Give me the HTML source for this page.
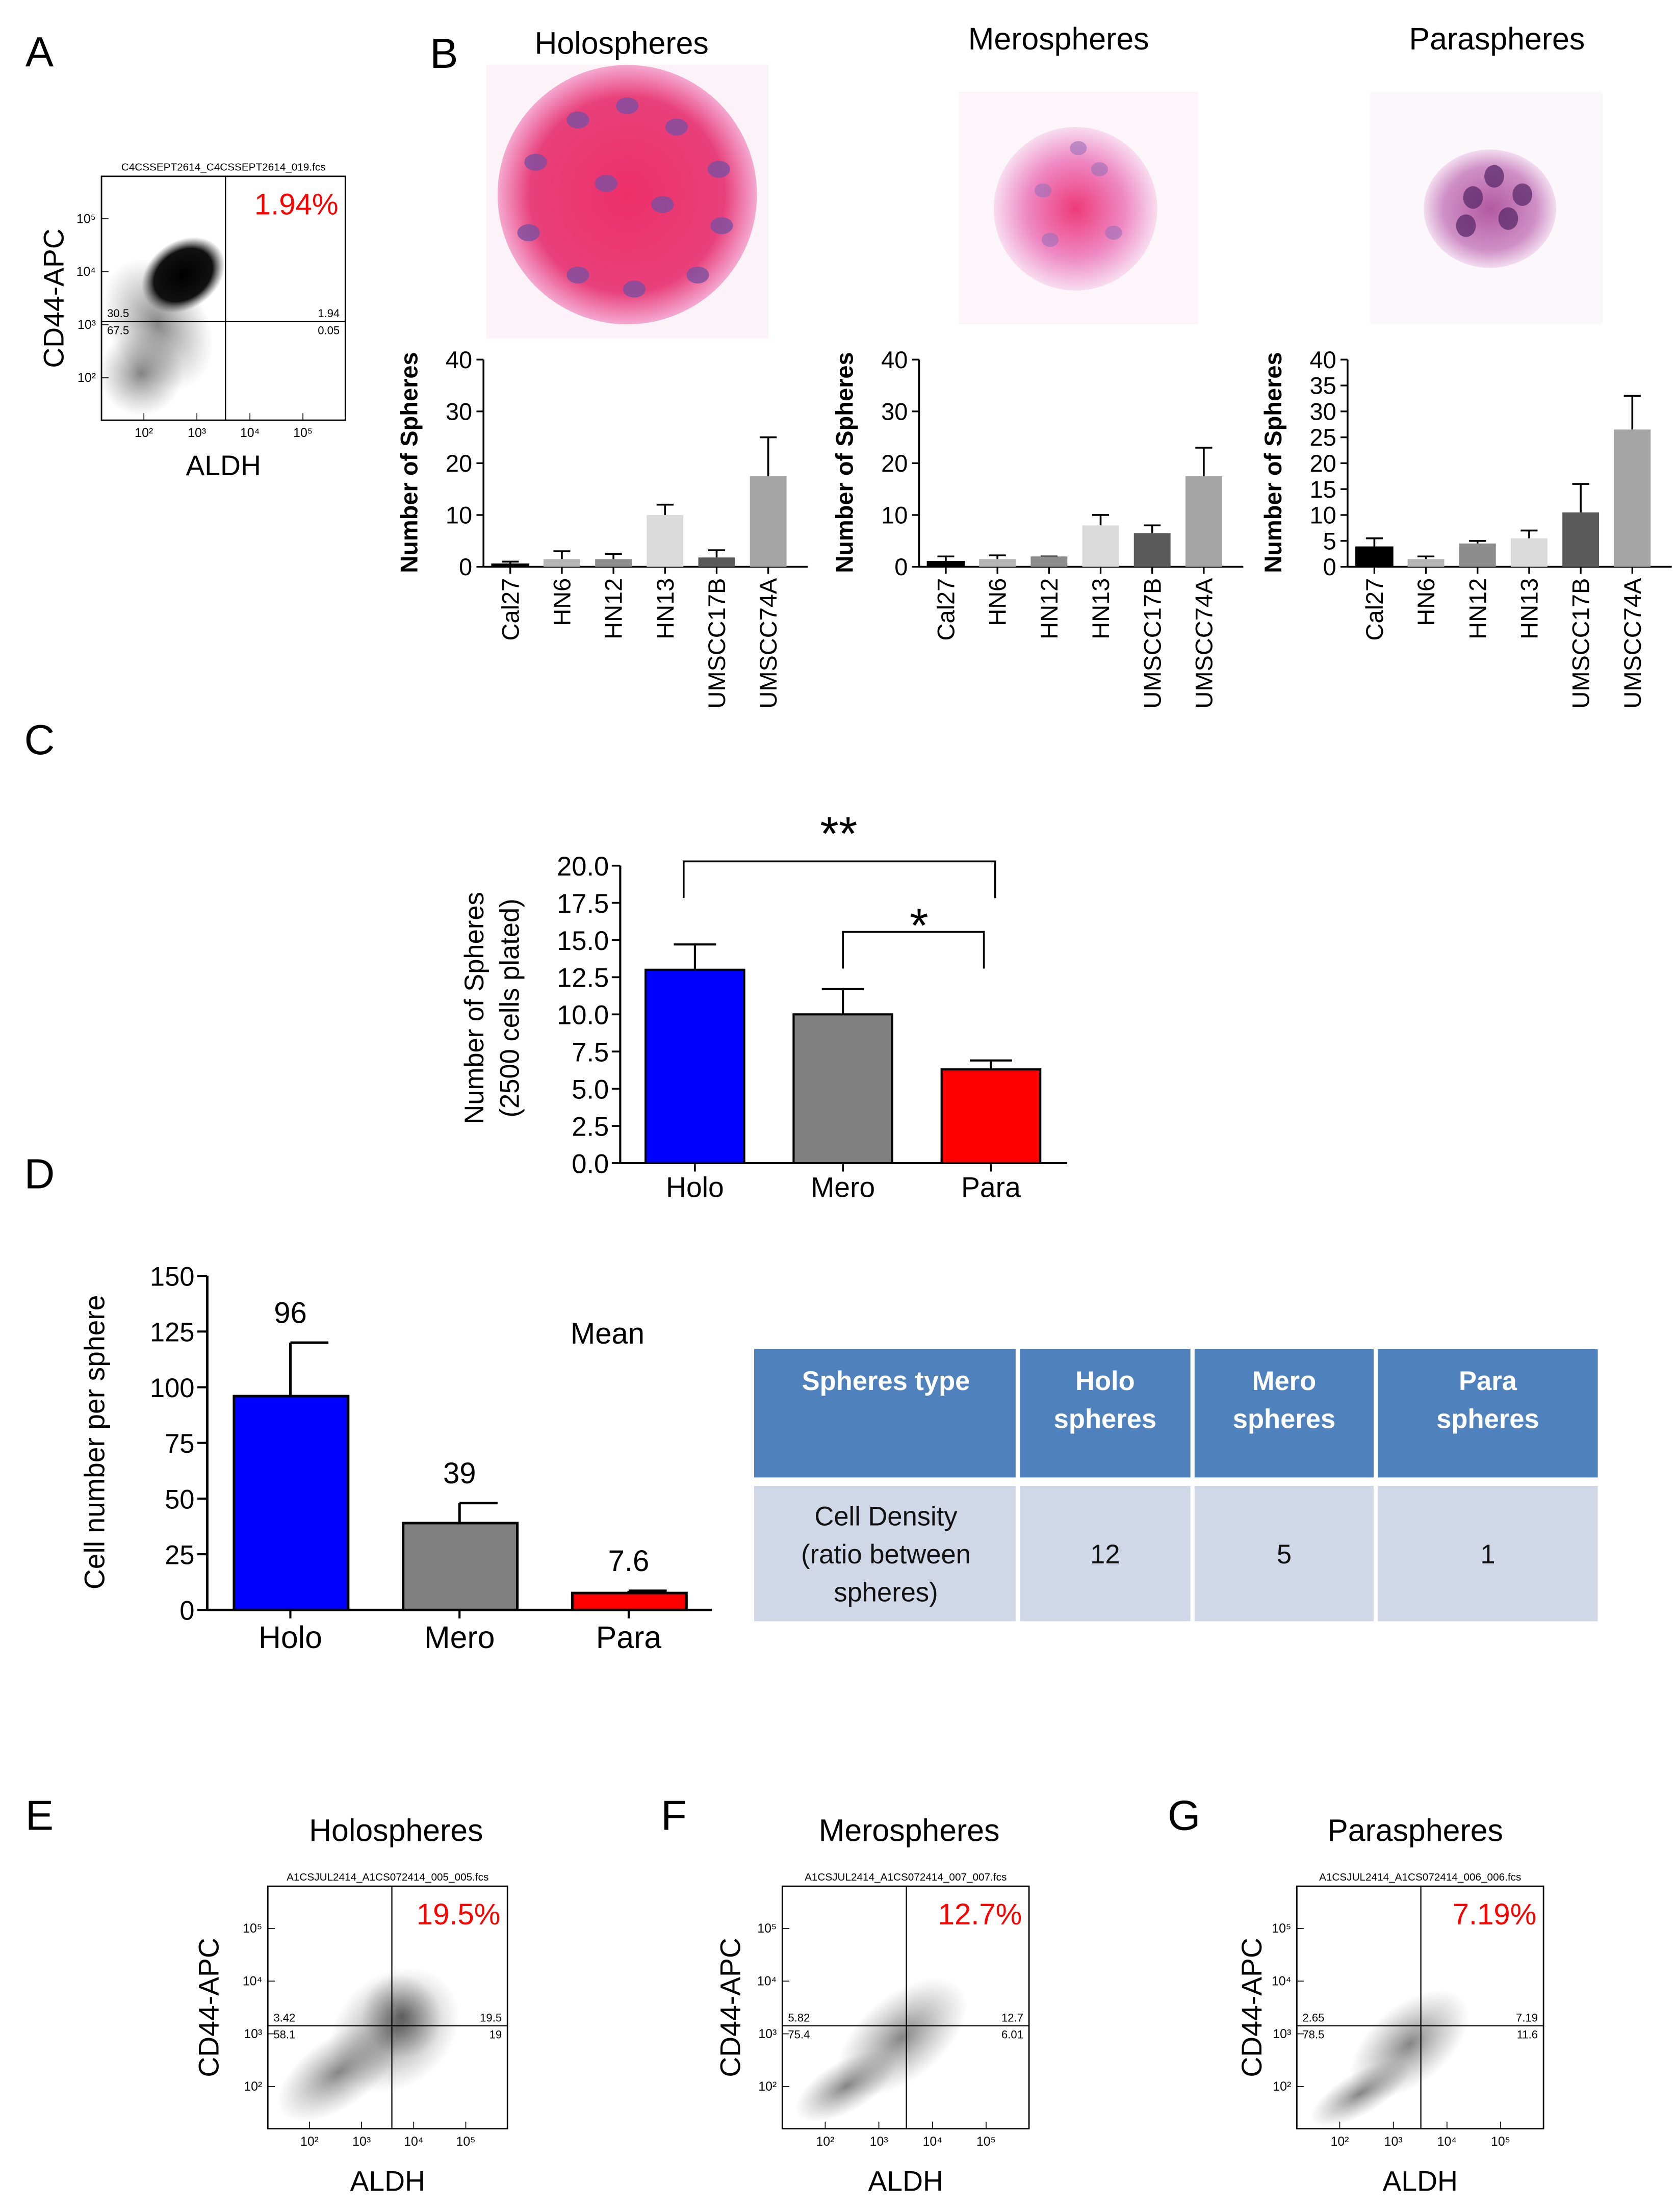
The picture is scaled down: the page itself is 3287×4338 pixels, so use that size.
<!DOCTYPE html>
<html><head><meta charset="utf-8"><style>
html,body{margin:0;padding:0;background:#fff}
svg{display:block}
text{font-family:"Liberation Sans",sans-serif}
</style></head><body>
<svg id="fig" width="3287" height="4338" viewBox="0 0 1189 1569" xmlns="http://www.w3.org/2000/svg">
<defs>
<radialGradient id="holo" cx="50%" cy="50%" r="50%"><stop offset="0" stop-color="#ee2f6a"/><stop offset="0.75" stop-color="#e8407a"/><stop offset="1" stop-color="#f4a8d0"/></radialGradient>
<radialGradient id="mero" cx="50%" cy="50%" r="50%"><stop offset="0" stop-color="#ee3b78"/><stop offset="0.6" stop-color="#ee88c4"/><stop offset="1" stop-color="#f8dcef"/></radialGradient>
<radialGradient id="para" cx="50%" cy="50%" r="50%"><stop offset="0" stop-color="#b25aa0"/><stop offset="0.7" stop-color="#cf8fc6"/><stop offset="1" stop-color="#f2dcef"/></radialGradient>
<radialGradient id="cloud" cx="50%" cy="50%" r="50%"><stop offset="0" stop-color="#000"/><stop offset="0.7" stop-color="#111"/><stop offset="1" stop-color="#444" stop-opacity="0"/></radialGradient>
<radialGradient id="cloud2" cx="50%" cy="50%" r="50%"><stop offset="0" stop-color="#222" stop-opacity="0.55"/><stop offset="1" stop-color="#555" stop-opacity="0"/></radialGradient>
</defs>
<g id="root"></g>
</svg>
<script>
// ---- Panel B data ----
const bCategories = ["Cal27","HN6","HN12","HN13","UMSCC17B","UMSCC74A"];
const holoValues = [0.5,1.5,1.5,10,1.8,17.5];
const holoErr = [0.5,1.5,1,2,1.4,7.5];
const meroValues = [1,1.5,2,8,6.5,17.5];
const meroErr = [1,0.7,0,2,1.5,5.5];
const paraValues = [3.8,1.5,4.5,5.5,10.5,26.5];
const paraErr = [1.7,0.5,0.5,1.5,5.5,6.5];
const bTicks40 = [0,10,20,30,40];
const bTicks5 = [0,5,10,15,20,25,30,35,40];
// ---- Panel C data ----
const cCategories = ["Holo","Mero","Para"];
const cValues = [13,10,6.3];
const cErr = [1.7,1.7,0.6];
const cTicks = ["0.0","2.5","5.0","7.5","10.0","12.5","15.0","17.5","20.0"];
// ---- Panel D data ----
const dCategories = ["Holo","Mero","Para"];
const dValues = [96,39,7.6];
const dErr = [24,9,1];
const dLabels = ["96","39","7.6"];
const dTicks = [0,25,50,75,100,125,150];

const NS="http://www.w3.org/2000/svg";
const root=document.getElementById('root');
function el(tag,attrs,parent,txt){const e=document.createElementNS(NS,tag);for(const k in attrs)e.setAttribute(k,attrs[k]);if(txt!==undefined)e.textContent=txt;(parent||root).appendChild(e);return e;}
function txt(x,y,s,size,opts,parent){const o=Object.assign({x:x,y:y,'font-size':size,'text-anchor':'middle'},opts||{});return el('text',o,parent,s);}

// Panel letters
[["A",28,47],["B",315,48],["C",28,535],["D",28,843],["E",28,1298],["F",478,1298],["G",840,1298]].forEach(p=>{
  const t=txt(p[1],p[2],p[0],30,{});
  
  
});

// ---------- Flow plots ----------
function flowPlot(name,x0,y0,w,h,qx,qy,fname,pct,nums,clouds,xl,yl){
  const g=el('g',{},root);
  
  
  txt(x0+w/2,y0-4,fname,7.5,{},g);
  clouds.forEach(c=>el('ellipse',{cx:c[0],cy:c[1],rx:c[2],ry:c[3],fill:c[4],transform:'rotate('+c[5]+' '+c[0]+' '+c[1]+')'},g));
  el('rect',{x:x0,y:y0,width:w,height:h,fill:'none',stroke:'#000','stroke-width':1},g);
  el('line',{x1:qx,y1:y0,x2:qx,y2:y0+h,stroke:'#000','stroke-width':0.8},g);
  el('line',{x1:x0,y1:qy,x2:x0+w,y2:qy,stroke:'#000','stroke-width':0.8},g);
  const p=txt(x0+w-5,y0+27,pct,21,{'text-anchor':'end',fill:'#ff0000'},g);
  
  
  txt(x0+4,qy-3,nums[0],8,{'text-anchor':'start'},g);
  txt(x0+w-4,qy-3,nums[1],8,{'text-anchor':'end'},g);
  txt(x0+4,qy+9,nums[2],8,{'text-anchor':'start'},g);
  txt(x0+w-4,qy+9,nums[3],8,{'text-anchor':'end'},g);
  const dx=w/4.6, dy=h/4.6;
  ["10²","10³","10⁴","10⁵"].forEach((s,i)=>{
    const xx=x0+dx*(i+0.8), yy=y0+h-dy*(i+0.8);
    txt(xx,y0+h+12,s,9,{},g);
    txt(x0-4,yy+3,s,9,{'text-anchor':'end'},g);
    el('line',{x1:xx,y1:y0+h,x2:xx,y2:y0+h-5,stroke:'#000','stroke-width':0.6},g);
    el('line',{x1:x0,y1:yy,x2:x0+5,y2:yy,stroke:'#000','stroke-width':0.6},g);
  });
  const a=txt(x0+w/2,xl,'ALDH',20,{},g);
  
  const b=txt(yl,y0+h/2,'CD44-APC',20,{transform:'rotate(-90 '+yl+' '+(y0+h/2)+')'},g);
  
}
flowPlot('flow-plot-a',72,125,173,173,160,228,'C4CSSEPT2614_C4CSSEPT2614_019.fcs','1.94%',['30.5','1.94','67.5','0.05'],
 [[112,230,35,50,'url(#cloud2)',-30],[100,265,30,30,'url(#cloud2)',0],[130,195,32,24,'url(#cloud)',-35]],337,45);
flowPlot('flow-plot-e',190,1338,170,172,278,1437,'A1CSJUL2414_A1CS072414_005_005.fcs','19.5%',['3.42','19.5','58.1','19'],
 [[280,1440,50,40,'url(#cloud2)',-40],[240,1470,50,25,'url(#cloud2)',-35],[285,1430,28,30,'url(#cloud2)',-30]],1554,155);
flowPlot('flow-plot-f',555,1338,175,172,643,1437,'A1CSJUL2414_A1CS072414_007_007.fcs','12.7%',['5.82','12.7','75.4','6.01'],
 [[640,1445,55,30,'url(#cloud2)',-40],[600,1480,40,18,'url(#cloud2)',-30]],1554,525);
flowPlot('flow-plot-g',920,1338,175,172,1008,1437,'A1CSJUL2414_A1CS072414_006_006.fcs','7.19%',['2.65','7.19','78.5','11.6'],
 [[1000,1450,50,28,'url(#cloud2)',-40],[965,1485,40,15,'url(#cloud2)',-30]],1554,895);
[["Holospheres",281,1306],["Merospheres",645,1306],["Paraspheres",1004,1306]].forEach((t,i)=>{
  const e=txt(t[1],t[2],t[0],22,{});
  
  
});

// ---------- Panel B images ----------
el('rect',{x:345,y:46,width:200,height:194,fill:'#fbf3f8'});
el('circle',{cx:445,cy:138,r:92,fill:'url(#holo)'});
el('rect',{x:680,y:65,width:170,height:165,fill:'#fcf5fa'});
el('circle',{cx:763,cy:148,r:58,fill:'url(#mero)'});
el('rect',{x:972,y:65,width:165,height:165,fill:'#fcf7fb'});
el('ellipse',{cx:1057,cy:148,rx:47,ry:42,fill:'url(#para)'});
[[375,165],[380,115],[410,85],[445,75],[480,90],[510,120],[512,160],[495,195],[450,205],[410,195],[430,130],[470,145]].forEach(n=>el('ellipse',{cx:n[0],cy:n[1],rx:8,ry:6,fill:'#7a4fa0',opacity:0.8}));
[[740,135],[780,120],[790,165],[745,170],[765,105]].forEach(n=>el('ellipse',{cx:n[0],cy:n[1],rx:6,ry:5,fill:'#9a6fb8',opacity:0.6}));
[[1045,140],[1060,125],[1070,155],[1040,160],[1080,138]].forEach(n=>el('ellipse',{cx:n[0],cy:n[1],rx:7,ry:8,fill:'#5a2a6a',opacity:0.75}));
[["Holospheres",441,38],["Merospheres",751,35],["Paraspheres",1062,35]].forEach((t,i)=>{
  const e=txt(t[1],t[2],t[0],22,{});
  
  
});

function barB(name,ax,values,errs,ticks,cats){
  const g=el('g',{},root);
  
  
  const y0=402,y1=255,max=40;
  const ys=v=>y0-(y0-y1)*v/max;
  const xs=i=>ax+19+i*36.6;
  const colors=['#000','#b5b5b5','#8c8c8c','#dadada','#5a5a5a','#a4a4a4'];
  el('line',{x1:ax,y1:y1,x2:ax,y2:y0,stroke:'#000','stroke-width':1.3},g);
  el('line',{x1:ax,y1:y0,x2:ax+230,y2:y0,stroke:'#000','stroke-width':1.3},g);
  ticks.forEach(t=>{
    el('line',{x1:ax-5,y1:ys(t),x2:ax,y2:ys(t),stroke:'#000','stroke-width':1.2},g);
    txt(ax-8,ys(t)+6,String(t),17,{'text-anchor':'end'},g);
  });
  values.forEach((v,i)=>{
    const x=xs(i), top=ys(v+errs[i]);
    el('line',{x1:x,y1:ys(v),x2:x,y2:top,stroke:'#000','stroke-width':1.3},g);
    el('line',{x1:x-6,y1:top,x2:x+6,y2:top,stroke:'#000','stroke-width':1.3},g);
    const r=el('rect',{x:x-13,y:ys(v),width:26,height:y0-ys(v),fill:colors[i],stroke:colors[i]==='#000'?'#000':'none'},g);
    
    
    el('line',{x1:x,y1:y0,x2:x,y2:y0+5,stroke:'#000','stroke-width':1.2},g);
    const l=txt(x+6,y0+8,cats[i],17,{'text-anchor':'end',transform:'rotate(-90 '+(x+6)+' '+(y0+8)+')'},g);
    
    
  });
  const yl=txt(ax-47,328,'Number of Spheres',17,{'font-weight':'bold',transform:'rotate(-90 '+(ax-47)+' 328)'},g);
  
  
}
barB('chart-b-holo',343,holoValues,holoErr,bTicks40,bCategories);
barB('chart-b-mero',652,meroValues,meroErr,bTicks40,bCategories);
barB('chart-b-para',956,paraValues,paraErr,bTicks5,bCategories);

// ---------- Panel C ----------
(function(){
  const g=el('g',{},root);
  
  
  const ax=440,y0=825,y1=614,max=20;
  const ys=v=>y0-(y0-y1)*v/max;
  const xs=i=>493+i*105;
  const colors=['#0000ff','#808080','#ff0000'];
  el('line',{x1:ax,y1:y1,x2:ax,y2:y0,stroke:'#000','stroke-width':1.5},g);
  el('line',{x1:ax,y1:y0,x2:757,y2:y0,stroke:'#000','stroke-width':1.5},g);
  cTicks.forEach(t=>{
    const v=parseFloat(t);
    el('line',{x1:ax-6,y1:ys(v),x2:ax,y2:ys(v),stroke:'#000','stroke-width':1.3},g);
    txt(ax-8,ys(v)+7,t,19,{'text-anchor':'end'},g);
  });
  cValues.forEach((v,i)=>{
    const x=xs(i),top=ys(v+cErr[i]);
    el('line',{x1:x,y1:ys(v),x2:x,y2:top,stroke:'#000','stroke-width':1.5},g);
    el('line',{x1:x-15,y1:top,x2:x+15,y2:top,stroke:'#000','stroke-width':1.5},g);
    const r=el('rect',{x:x-35,y:ys(v),width:70,height:y0-ys(v),fill:colors[i],stroke:'#000','stroke-width':1.5},g);
    
    
    el('line',{x1:x,y1:y0,x2:x,y2:y0+6,stroke:'#000','stroke-width':1.3},g);
    txt(x,y0+24,cCategories[i],20,{},g);
  });
  el('path',{d:'M485 637 V611 H706 V637',fill:'none',stroke:'#000','stroke-width':1.3},g);
  txt(595,603,'**',34,{},g);
  el('path',{d:'M598 687 V661 H698 V687',fill:'none',stroke:'#000','stroke-width':1.3},g);
  txt(652,668,'*',34,{},g);
  const t1=txt(343,715,'Number of Spheres',19,{transform:'rotate(-90 343 715)'},g);
  
  txt(368,715,'(2500 cells plated)',19,{transform:'rotate(-90 368 715)'},g);
})();

// ---------- Panel D ----------
(function(){
  const g=el('g',{},root);
  
  
  const ax=147,y0=1142,y1=905,max=150;
  const ys=v=>y0-(y0-y1)*v/max;
  const xs=i=>206+i*120;
  const colors=['#0000ff','#808080','#ff0000'];
  el('line',{x1:ax,y1:y1,x2:ax,y2:y0,stroke:'#000','stroke-width':1.8},g);
  el('line',{x1:ax,y1:y0,x2:505,y2:y0,stroke:'#000','stroke-width':1.8},g);
  dTicks.forEach(t=>{
    el('line',{x1:ax-7,y1:ys(t),x2:ax,y2:ys(t),stroke:'#000','stroke-width':1.5},g);
    txt(ax-9,ys(t)+7,String(t),19,{'text-anchor':'end'},g);
  });
  dValues.forEach((v,i)=>{
    const x=xs(i),top=ys(v+dErr[i]);
    el('line',{x1:x,y1:ys(v),x2:x,y2:top,stroke:'#000','stroke-width':1.8},g);
    el('line',{x1:x,y1:top,x2:x+27,y2:top,stroke:'#000','stroke-width':1.8},g);
    const r=el('rect',{x:x-40,y:ys(v),width:81,height:y0-ys(v),fill:colors[i],stroke:'#000','stroke-width':1.8},g);
    
    
    const vl=txt(x,top-14,dLabels[i],21,{},g);
    
    
    el('line',{x1:x,y1:y0,x2:x,y2:y0+6,stroke:'#000','stroke-width':1.5},g);
    txt(x,y0+27,dCategories[i],22,{},g);
  });
  txt(431,953,'Mean',21,{},g);
  const t1=txt(74,1023,'Cell number per sphere',20,{transform:'rotate(-90 74 1023)'},g);
  
})();

// ---------- Table ----------
(function(){
  const g=el('g',{},root);
  
  
  const cols=[535,722,846,976,1135];
  const head=[["Spheres type"],["Holo","spheres"],["Mero","spheres"],["Para","spheres"]];
  const body=[["Cell Density","(ratio between","spheres)"],["12"],["5"],["1"]];
  for(let i=0;i<4;i++){
    const x=cols[i]+(i?1.5:0), w=cols[i+1]-cols[i]-(i?1.5:0)-1.5;
    el('rect',{x:x,y:957,width:w,height:91,fill:'#4f81bd'},g);
    el('rect',{x:x,y:1054,width:w,height:96,fill:'#d0d8e8'},g);
    const cx=(cols[i]+cols[i+1])/2;
    head[i].forEach((s,j)=>txt(cx,986+j*27,s,19,{'font-weight':'bold',fill:'#fff'},g));
    const b=body[i];
    b.forEach((s,j)=>txt(cx,1109+(j-(b.length-1)/2)*27,s,19,{fill:'#111'},g));
  }
})();
</script>
</body></html>
